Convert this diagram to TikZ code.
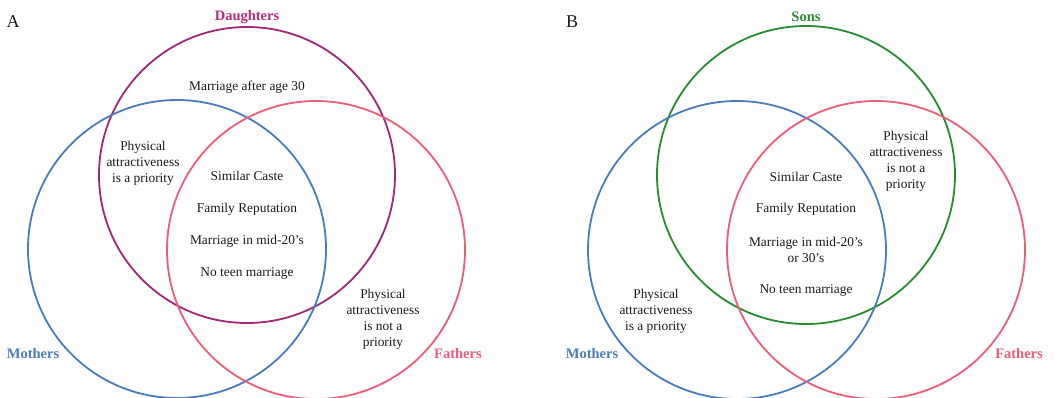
\documentclass[tikz,border=0pt]{standalone}
\usepackage{fontspec}
\setmainfont{Liberation Serif}
\definecolor{dau}{RGB}{160,38,120}
\definecolor{dautxt}{RGB}{184,42,126}
\definecolor{son}{RGB}{38,140,48}
\definecolor{mom}{RGB}{72,124,186}
\definecolor{dad}{RGB}{238,92,118}
\definecolor{txt}{RGB}{25,25,25}
\begin{document}
\begin{tikzpicture}[x=1pt,y=-1pt,
  ring/.style={line width=1.8pt},
  body/.style={font=\fontsize{13.4}{16}\selectfont, text=txt, align=center, inner sep=0pt},
  setlabel/.style={font=\fontsize{14.5}{16}\selectfont\bfseries, inner sep=0pt},
  panel/.style={font=\fontsize{18}{20}\selectfont, text=txt, inner sep=0pt}]
\useasboundingbox (0,0) rectangle (1055,397);
% ---------- Panel A ----------
\node[panel] (lA) at (13,22) {A};
\draw[ring, dau] (247,175) circle (148);
\draw[ring, mom] (177,249) circle (149);
\draw[ring, dad] (316,250) circle (149);
\node[setlabel, text=dautxt] (dA) at (247,17) {Daughters};
\node[setlabel, text=mom] (mA) at (33,354) {Mothers};
\node[setlabel, text=dad] (fA) at (458,354) {Fathers};
\node[body] (a30) at (247,87) {Marriage after age 30};
\node[body] (apa) at (143,163) {Physical\\attractiveness\\is a priority};
\node[body] (ac1) at (247,176) {Similar Caste};
\node[body] (ac2) at (247,209) {Family Reputation};
\node[body] (ac3) at (247,241) {Marriage in mid-20's};
\node[body] (ac4) at (247,274) {No teen marriage};
\node[body] (anp) at (383,319) {Physical\\attractiveness\\is not a\\priority};
% ---------- Panel B ----------
\node[panel] (lB) at (572,22) {B};
\draw[ring, son] (806,175) circle (149);
\draw[ring, mom] (737,250) circle (149);
\draw[ring, dad] (876,250) circle (149);
\node[setlabel, text=son] (sB) at (806,17) {Sons};
\node[setlabel, text=mom] (mB) at (592,354) {Mothers};
\node[setlabel, text=dad] (fB) at (1019,354) {Fathers};
\node[body] (bnp) at (906,161) {Physical\\attractiveness\\is not a\\priority};
\node[body] (bc1) at (806,177) {Similar Caste};
\node[body] (bc2) at (806,209) {Family Reputation};
\node[body] (bc3) at (806,250) {Marriage in mid-20's\\or 30's};
\node[body] (bc4) at (806,291) {No teen marriage};
\node[body] (bpa) at (656,311) {Physical\\attractiveness\\is a priority};
\end{tikzpicture}
\end{document}
